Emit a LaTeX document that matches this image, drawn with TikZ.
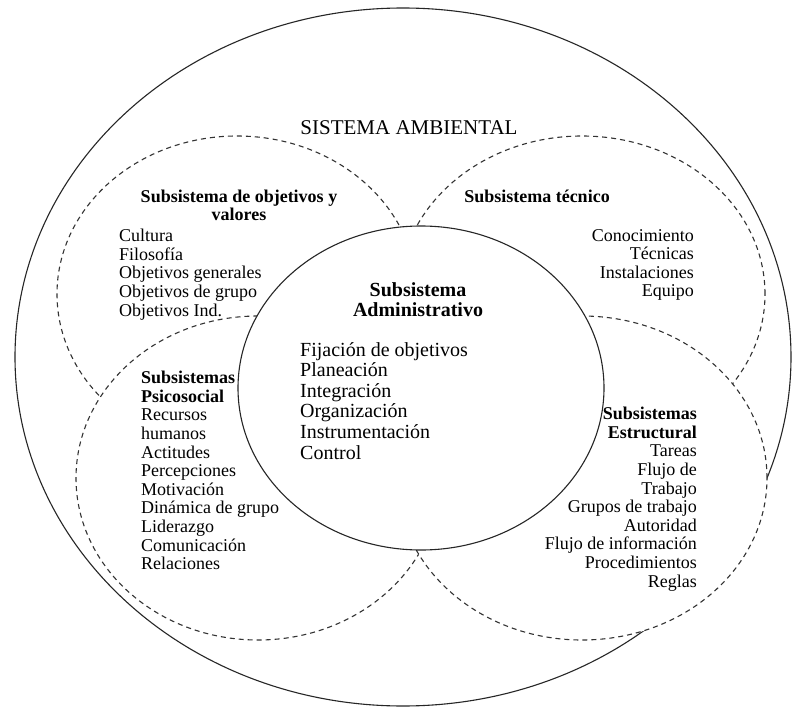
\documentclass[tikz,border=0pt]{standalone}
\usepackage{fontspec}
\setmainfont{Liberation Serif}
\begin{document}
\begin{tikzpicture}[x=1pt,y=-1pt,
  ring/.style={draw=black!85, line width=1.1pt},
  dashring/.style={draw=black!80, line width=1.1pt, dash pattern=on 5pt off 4pt},
  bodytxt/.style={inner sep=0pt, font=\fontsize{18}{18.6}\selectfont},
  bigtxt/.style={inner sep=0pt, font=\fontsize{20}{20.6}\selectfont},
  ttl/.style={inner sep=0pt, align=center, font=\bfseries\fontsize{18}{17.5}\selectfont}]
\useasboundingbox (0,0) rectangle (793,709);
\fill[white] (0,0) rectangle (793,709);
% outer environment
\draw[ring] (403,357) ellipse [x radius=388pt, y radius=349pt];
% upper dashed subsystems
\draw[dashring] (237,294) ellipse [x radius=180pt, y radius=158pt];
\draw[dashring] (582,294) ellipse [x radius=183pt, y radius=158pt];
% lower dashed subsystems (white, on top of the upper ones)
\filldraw[dashring, fill=white] (258,478) ellipse [x radius=182pt, y radius=162pt];
\filldraw[dashring, fill=white] (582,478) ellipse [x radius=185pt, y radius=162pt];
% central
\filldraw[ring, fill=white] (421,388) ellipse [x radius=183pt, y radius=162pt];

\node[inner sep=0pt, font=\fontsize{21}{21}\selectfont, anchor=center] (amb) at (409,128) {SISTEMA AMBIENTAL};

\node[ttl, anchor=north] (ulT) at (239,190) {Subsistema de objetivos y\\valores};
\node[bodytxt, anchor=north west, align=left] (ulL) at (119,229)
  {Cultura\\Filosofía\\Objetivos generales\\Objetivos de grupo\\Objetivos Ind.};

\node[ttl, anchor=north] (urT) at (537,190) {Subsistema técnico};
\node[bodytxt, anchor=north east, align=right] (urL) at (694,229)
  {Conocimiento\\Técnicas\\Instalaciones\\Equipo};

\node[inner sep=0pt, anchor=north, align=center, font=\bfseries\fontsize{20}{20}\selectfont] (cT) at (418,282)
  {Subsistema\\Administrativo};
\node[bigtxt, anchor=north west, align=left] (cL) at (300,342)
  {Fijación de objetivos\\Planeación\\Integración\\Organización\\Instrumentación\\Control};

\node[bodytxt, anchor=north west, align=left] (llL) at (141,371)
  {\textbf{Subsistemas}\\\textbf{Psicosocial}\\Recursos\\humanos\\Actitudes\\Percepciones\\Motivación\\Dinámica de grupo\\Liderazgo\\Comunicación\\Relaciones};

\node[bodytxt, anchor=north east, align=right] (lrL) at (697,407)
  {\textbf{Subsistemas}\\\textbf{Estructural}\\Tareas\\Flujo de\\Trabajo\\Grupos de trabajo\\Autoridad\\Flujo de información\\Procedimientos\\Reglas};
\end{tikzpicture}
\end{document}
